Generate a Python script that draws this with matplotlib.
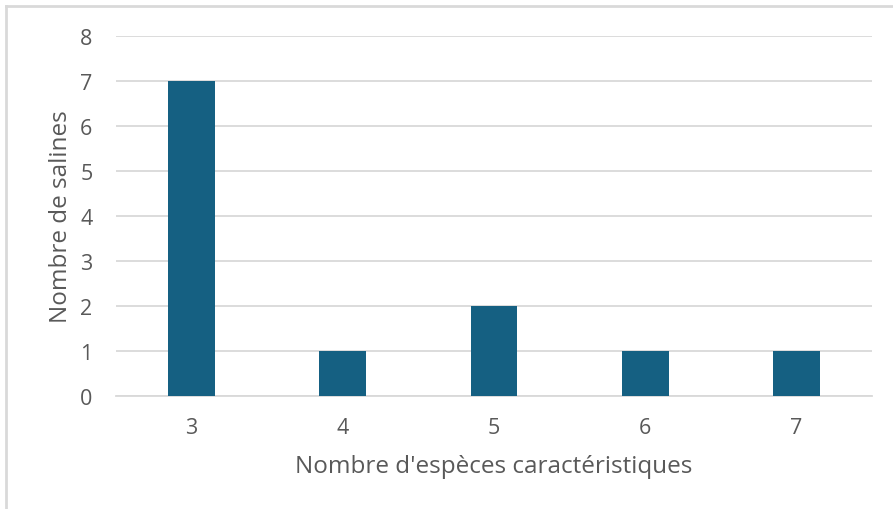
import matplotlib.pyplot as plt
import numpy as np

especes = ['3', '4', '5', '6', '7']
salines = [7, 1, 2, 1, 1]
yticks = [0, 1, 2, 3, 4, 5, 6, 7, 8]

plt.rcParams['font.family'] = ['Open Sans', 'DejaVu Sans']
gris = '#595959'

fig = plt.figure(figsize=(8.93, 5.10), dpi=100)
ax = fig.add_axes([116 / 893, 1 - 397 / 510, 756 / 893, 360 / 510])

x = np.arange(len(especes))
ax.bar(x, salines, width=0.31, color='#156082', zorder=3)

ax.set_xlim(-0.5, len(especes) - 0.5)
ax.set_ylim(0, 8)
ax.set_yticks(yticks)
ax.set_xticks(x)
ax.set_xticklabels(especes)
ax.yaxis.grid(True, color='#d9d9d9', linewidth=1.3, zorder=0)
for s in ['top', 'right', 'left']:
    ax.spines[s].set_visible(False)
ax.spines['bottom'].set_color('#d9d9d9')
ax.spines['bottom'].set_linewidth(1.3)
ax.tick_params(length=0, labelsize=15.5, colors=gris, pad=15)
ax.tick_params(axis='y', pad=17)

ax.set_xlabel("Nombre d'espèces caractéristiques", fontsize=17.5, color=gris, labelpad=12)
ax.set_ylabel('Nombre de salines', fontsize=17.5, color=gris, labelpad=5)

# cadre du graphique (bords haut et gauche visibles)
fig.add_artist(plt.Line2D([6 / 893, 1], [1 - 7 / 510, 1 - 7 / 510], color='#d9d9d9', linewidth=2))
fig.add_artist(plt.Line2D([6 / 893, 6 / 893], [0, 1 - 7 / 510], color='#d9d9d9', linewidth=2))

fig.savefig('out.png', dpi=100)
